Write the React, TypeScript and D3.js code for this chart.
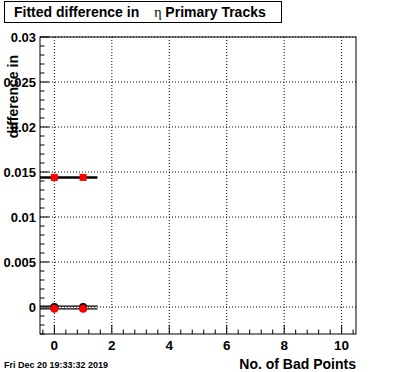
import { useEffect, useRef } from "react";
import * as d3 from "d3";

// Chart values
const badPoints = [0, 1];
const fitSquares = [0.0144, 0.0144];
const blackCircles = [0.0, 0.0];
const redCircles = [-0.0002, -0.0002];
const fitLines = [0.0144, 0.0001, -0.0002];
const xTicks = [0, 2, 4, 6, 8, 10];
const yTicks = [0, 0.005, 0.01, 0.015, 0.02, 0.025, 0.03];
const yTickLabels = ["0", "0.005", "0.01", "0.015", "0.02", "0.025", "0.03"];

const width = 396;
const height = 372;
const margin = { top: 37, right: 40, bottom: 38, left: 40 };
const font = "Liberation Sans, Arial, Helvetica, sans-serif";

export default function App() {
  const ref = useRef<SVGSVGElement>(null);

  useEffect(() => {
    document.body.style.margin = "0";
    const svg = d3.select(ref.current);
    svg.selectAll("*").remove();

    const x = d3.scaleLinear().domain([-0.5, 10.5]).range([margin.left, width - margin.right]);
    const y = d3.scaleLinear().domain([-0.003, 0.03]).range([height - margin.bottom, margin.top]);

    svg.append("rect").attr("width", width).attr("height", height).attr("fill", "white");

    // grid
    svg.append("g").selectAll("line").data(xTicks).join("line")
      .attr("x1", d => x(d)).attr("x2", d => x(d))
      .attr("y1", margin.top).attr("y2", height - margin.bottom)
      .attr("stroke", "black").attr("stroke-dasharray", "1,2");
    svg.append("g").selectAll("line").data(yTicks).join("line")
      .attr("x1", margin.left).attr("x2", width - margin.right)
      .attr("y1", d => y(d)).attr("y2", d => y(d))
      .attr("stroke", "black").attr("stroke-dasharray", "1,2");

    // frame
    svg.append("rect")
      .attr("x", margin.left).attr("y", margin.top)
      .attr("width", width - margin.left - margin.right)
      .attr("height", height - margin.top - margin.bottom)
      .attr("fill", "none").attr("stroke", "black");

    // ticks
    const xMinor = d3.range(-0.4, 10.5, 0.4);
    const yMinor = d3.range(-0.003, 0.0301, 0.001);
    const by = height - margin.bottom;
    svg.append("g").selectAll("line").data(xMinor).join("line")
      .attr("x1", d => x(d)).attr("x2", d => x(d))
      .attr("y1", by).attr("y2", d => by - (Math.abs(d / 2 - Math.round(d / 2)) < 0.01 ? 9 : 4.5))
      .attr("stroke", "black");
    svg.append("g").selectAll("line").data(yMinor).join("line")
      .attr("x1", margin.left)
      .attr("x2", d => margin.left + (Math.abs(d / 0.005 - Math.round(d / 0.005)) < 0.01 ? 9 : 4.5))
      .attr("y1", d => y(d)).attr("y2", d => y(d))
      .attr("stroke", "black");

    // tick labels
    svg.append("g").selectAll("text").data(xTicks).join("text")
      .attr("x", d => x(d)).attr("y", by + 16)
      .attr("text-anchor", "middle")
      .attr("font-family", font).attr("font-weight", "bold").attr("font-size", 13.5)
      .text(d => d);
    svg.append("g").selectAll("text").data(yTicks).join("text")
      .attr("x", margin.left - 4).attr("y", d => y(d) + 5)
      .attr("text-anchor", "end")
      .attr("font-family", font).attr("font-weight", "bold").attr("font-size", 13)
      .text((d, i) => yTickLabels[i]);

    // fit lines
    svg.append("g").selectAll("line").data(fitLines).join("line")
      .attr("x1", x(-0.5)).attr("x2", x(1.5))
      .attr("y1", d => y(d)).attr("y2", d => y(d))
      .attr("stroke", "black").attr("stroke-width", (d, i) => (i === 0 ? 2.5 : 1.2));

    // markers
    svg.append("g").selectAll("circle").data(badPoints).join("circle")
      .attr("cx", d => x(d)).attr("cy", (d, i) => y(blackCircles[i]))
      .attr("r", 4).attr("fill", "black");
    svg.append("g").selectAll("circle").data(badPoints).join("circle")
      .attr("cx", d => x(d)).attr("cy", (d, i) => y(redCircles[i]))
      .attr("r", 4).attr("fill", "red");
    svg.append("g").selectAll("rect").data(badPoints).join("rect")
      .attr("x", d => x(d) - 3.5).attr("y", (d, i) => y(fitSquares[i]) - 3.5)
      .attr("width", 7).attr("height", 7).attr("fill", "red");

    // axis titles
    svg.append("text")
      .attr("x", width - margin.right).attr("y", 369)
      .attr("text-anchor", "end")
      .attr("font-family", font).attr("font-weight", "bold").attr("font-size", 14)
      .text("No. of Bad Points");
    svg.append("text")
      .attr("transform", "translate(18,55) rotate(-90)")
      .attr("text-anchor", "end")
      .attr("font-family", font).attr("font-weight", "bold").attr("font-size", 14)
      .text("difference in");

    // title box
    svg.append("rect")
      .attr("x", 4.5).attr("y", 1.5).attr("width", 277).attr("height", 21)
      .attr("fill", "white").attr("stroke", "black");
    const title = svg.append("text")
      .attr("x", 14).attr("y", 17)
      .attr("font-family", font).attr("font-weight", "bold").attr("font-size", 14);
    title.append("tspan").text("Fitted difference in ");
    title.append("tspan").attr("dx", 11).attr("font-weight", "normal")
      .attr("font-family", "Liberation Serif, Times New Roman, serif").text("η");
    title.append("tspan").text(" Primary Tracks");

    // date stamp
    svg.append("text")
      .attr("x", 4).attr("y", 368)
      .attr("font-family", font).attr("font-weight", "bold").attr("font-size", 9)
      .text("Fri Dec 20 19:33:32 2019");
  }, []);

  return <svg ref={ref} width={width} height={height} style={{ display: "block" }} />;
}
